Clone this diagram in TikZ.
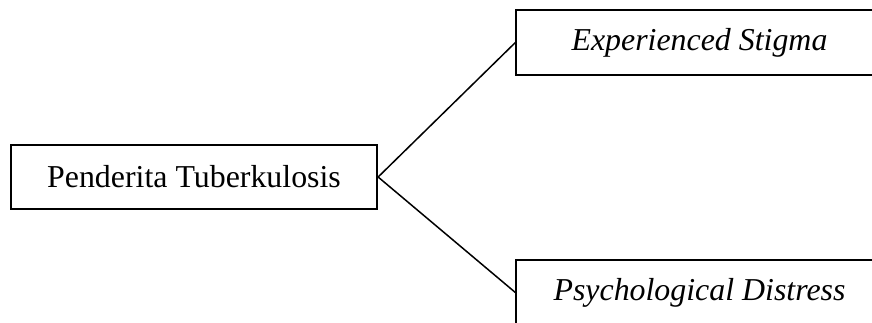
\documentclass[tikz,border=0pt]{standalone}
\usepackage{fontspec}
\setmainfont{Liberation Serif}
\begin{document}
\begin{tikzpicture}[x=0.4pt,y=-0.4pt,
  box/.style={draw,line width=0.7pt,minimum width=146.6pt,minimum height=25.8pt,
    inner sep=0pt,font=\fontsize{12.75}{15}\selectfont}]
      \clip (0,0) rectangle (872,322);
      \node[box] (pt) at (194,177) {Penderita Tuberkulosis};
      \node[box] (es) at (699.5,42.5) {\textit{Experienced Stigma}};
      \node[box] (pd) at (699.5,292.5) {\textit{Psychological Distress}};
      \draw[line width=0.6pt] (pt.east) -- (es.west);
      \draw[line width=0.6pt] (pt.east) -- (pd.west);
    \end{tikzpicture}
\end{document}
